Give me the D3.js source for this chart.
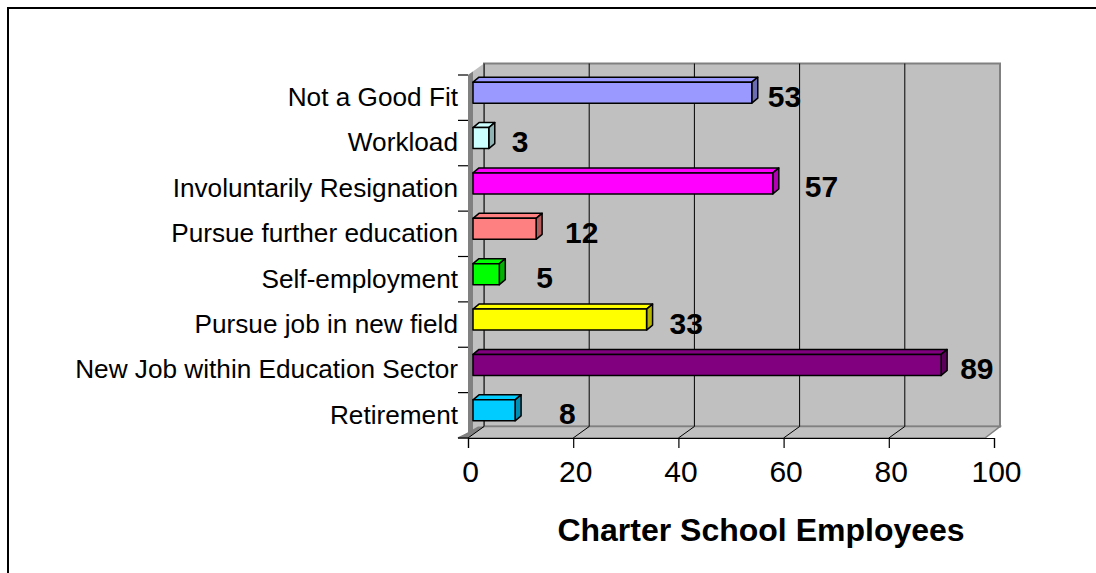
<!DOCTYPE html>
<html>
<head>
<meta charset="utf-8">
<script src="https://cdn.jsdelivr.net/npm/d3@7/dist/d3.min.js"></script>
<style>
  html, body { margin: 0; padding: 0; background: #fff; overflow: hidden; }
  svg { display: block; }
  text { font-family: "Liberation Sans", Arial, sans-serif; fill: #000; }
</style>
</head>
<body>
<svg id="chart" width="1096" height="573"></svg>
<script>
// Reasons charter school employees left, by count
const categories = [
  "Not a Good Fit",
  "Workload",
  "Involuntarily Resignation",
  "Pursue further education",
  "Self-employment",
  "Pursue job in new field",
  "New Job within Education Sector",
  "Retirement"
];
const employees = [53, 3, 57, 12, 5, 33, 89, 8];
const barColors = ["#9999ff", "#ccffff", "#ff00ff", "#ff8080", "#00ff00", "#ffff00", "#800080", "#00ccff"];
const xTicks = [0, 20, 40, 60, 80, 100];
const xTitle = "Charter School Employees";

const svg = d3.select("#chart");

// outer chart frame (only its top and left edges fall inside the view)
svg.append("path")
  .attr("d", "M8,1096 L8,8 L1096,8")
  .attr("fill", "none").attr("stroke", "#000").attr("stroke-width", 2);

// scales: x along the front edge of the floor, bands for categories
const x = d3.scaleLinear().domain([0, 100]).range([468, 994]);
const y = d3.scaleBand().domain(categories).range([75, 438]).padding(0);

// perspective offset of the back wall and of each bar's depth
const wallDx = 16, wallDy = -11.5;
const barDx = 6, barDy = -5;
const yFloor = y.range()[1];
const yTop = y.range()[0];
const backRight = 1000;

const walls = svg.append("g");

// back wall
walls.append("rect")
  .attr("x", x(0) + wallDx).attr("y", yTop + wallDy)
  .attr("width", backRight - (x(0) + wallDx))
  .attr("height", (yFloor + wallDy) - (yTop + wallDy))
  .attr("fill", "#c0c0c0").attr("stroke", "#808080").attr("stroke-width", 2);

// side wall
walls.append("polygon")
  .attr("points", [
    [x(0), yTop], [x(0) + wallDx, yTop + wallDy],
    [x(0) + wallDx, yFloor + wallDy], [x(0), yFloor]
  ].map(p => p.join(",")).join(" "))
  .attr("fill", "#c0c0c0");
// side wall front edge (thickness)
walls.append("polygon")
  .attr("points", [
    [x(0), yTop], [x(0) + 5, yTop - 3.5],
    [x(0) + 5, yFloor - 3.5], [x(0), yFloor]
  ].map(p => p.join(",")).join(" "))
  .attr("fill", "#808080");

// floor
walls.append("polygon")
  .attr("points", [
    [x(0) - 10, yFloor], [x(100) - 9, yFloor],
    [backRight, yFloor + wallDy], [x(0) + wallDx, yFloor + wallDy]
  ].map(p => p.join(",")).join(" "))
  .attr("fill", "#c0c0c0").attr("stroke", "#808080").attr("stroke-width", 1.5);
walls.append("polygon")
  .attr("points", [
    [x(0) - 10, yFloor], [x(0), yFloor],
    [x(0) + wallDx, yFloor + wallDy], [x(0) + wallDx - 6, yFloor + wallDy]
  ].map(p => p.join(",")).join(" "))
  .attr("fill", "#808080");

// gridlines on back wall and floor
const grid = svg.append("g").attr("stroke", "#000").attr("stroke-width", 1);
xTicks.filter(v => v < 100).forEach(v => {
  grid.append("line")
    .attr("x1", x(v) + wallDx).attr("x2", x(v) + wallDx)
    .attr("y1", yTop + wallDy).attr("y2", yFloor + wallDy);
  grid.append("line")
    .attr("x1", x(v)).attr("x2", x(v) + wallDx)
    .attr("y1", yFloor).attr("y2", yFloor + wallDy);
});

// x axis
const xAxis = svg.append("g")
  .attr("transform", `translate(0,${yFloor})`)
  .call(d3.axisBottom(x).tickValues(xTicks).tickSize(10).tickPadding(13).tickFormat(d3.format("d")));
xAxis.select(".domain").attr("stroke", "#000").attr("stroke-width", 1.2);
xAxis.selectAll(".tick line").attr("stroke", "#000").attr("stroke-width", 1.2);
xAxis.selectAll("text")
  .attr("dx", 2)
  .style("font-size", "30px").style("font-family", "'Liberation Sans', Arial, sans-serif");

// category axis: ticks sit on band boundaries, labels at band centres
const yAxis = svg.append("g")
  .attr("transform", `translate(${x(0)},0)`)
  .call(d3.axisLeft(y).tickSize(0).tickPadding(10));
yAxis.select(".domain").remove();
yAxis.selectAll("text").style("font-size", "26.2px").style("font-family", "'Liberation Sans', Arial, sans-serif");
d3.range(categories.length + 1).forEach(i => {
  const yy = yTop + i * y.step();
  svg.append("line")
    .attr("x1", x(0) - 10).attr("x2", x(0))
    .attr("y1", yy).attr("y2", yy)
    .attr("stroke", "#000").attr("stroke-width", 1.2);
});

// 3-D bars
const x0 = x(0) + 5;
const barH = 21;
const pts = a => a.map(p => p.join(",")).join(" ");
const bars = svg.append("g").attr("stroke", "#000").attr("stroke-width", 1.5).attr("stroke-linejoin", "round");
categories.forEach((c, i) => {
  const w = x(employees[i]) - x(0);
  const yf = y(c) + y.bandwidth() / 2 - 5 - barH / 2;
  const col = barColors[i];
  const dark = d3.color(col).darker(1.0);
  const g = bars.append("g");
  g.append("polygon")
    .attr("points", pts([[x0, yf], [x0 + barDx, yf + barDy], [x0 + w + barDx, yf + barDy], [x0 + w, yf]]))
    .attr("fill", col);
  g.append("polygon")
    .attr("points", pts([[x0 + w, yf], [x0 + w + barDx, yf + barDy], [x0 + w + barDx, yf + barH + barDy], [x0 + w, yf + barH]]))
    .attr("fill", dark);
  g.append("rect")
    .attr("x", x0).attr("y", yf).attr("width", w).attr("height", barH)
    .attr("fill", col);
});

// value labels, nudged right of each bar end
const labelShift = [16, 23, 32, 29, 37, 23, 19, 44];
categories.forEach((c, i) => {
  svg.append("text")
    .attr("x", x0 + (x(employees[i]) - x(0)) + labelShift[i])
    .attr("y", y(c) + y.bandwidth() / 2 - 2 + 11)
    .style("font-size", "30px").style("font-weight", "bold")
    .text(employees[i]);
});

// axis title
svg.append("text")
  .attr("x", 761).attr("y", 541)
  .attr("text-anchor", "middle")
  .style("font-size", "32px").style("font-weight", "bold")
  .text(xTitle);
</script>
</body>
</html>
